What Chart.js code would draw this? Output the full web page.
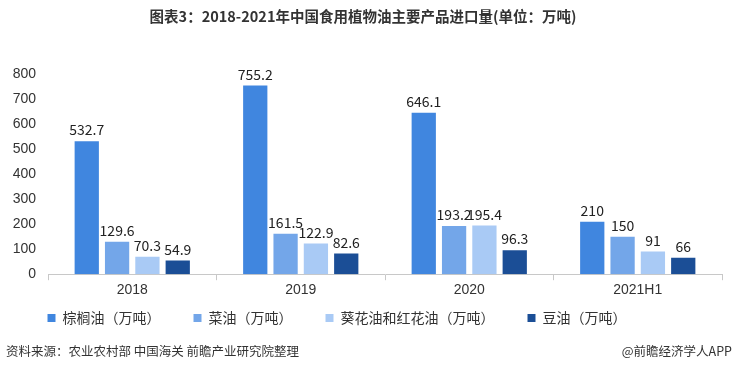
<!DOCTYPE html>
<html>
<head>
<meta charset="utf-8">
<script src="https://cdn.jsdelivr.net/npm/chart.js@4.4.0/dist/chart.umd.min.js"></script>
<style>
  body { margin: 0; background: #fff; font-family: "Noto Sans CJK SC", sans-serif; }
  #wrap { position: relative; width: 734px; height: 374px; }
  #box { position: absolute; left: 0; top: 0; width: 734px; height: 365px; }
  .foot { position: absolute; top: 341px; font-size: 12.5px; color: #333; }
</style>
</head>
<body>
<div id="wrap">
  <div id="box"><canvas id="oilChart"></canvas></div>
  <div class="foot" style="left:6px;">资料来源：农业农村部 中国海关 前瞻产业研究院整理</div>
  <div class="foot" style="right:2px;">@前瞻经济学人APP</div>
</div>
<script>
// 2018-2021H1 import volumes (10k tonnes)
const years = ['2018', '2019', '2020', '2021H1'];
const palmOil = [532.7, 755.2, 646.1, 210];
const rapeseedOil = [129.6, 161.5, 193.2, 150];
const sunflowerSafflowerOil = [70.3, 122.9, 195.4, 91];
const soybeanOil = [54.9, 82.6, 96.3, 66];
const seriesNames = ['棕榈油（万吨）', '菜油（万吨）', '葵花油和红花油（万吨）', '豆油（万吨）'];
const colors = ['#4086df', '#73a6e9', '#a9caf5', '#1b4e96'];

// draws the value above each bar
const valueLabels = {
    id: 'valueLabels',
    afterDatasetsDraw(chart) {
        const ctx = chart.ctx;
        ctx.save();
        ctx.font = '14px "Noto Sans CJK SC", sans-serif';
        ctx.fillStyle = '#222';
        ctx.textAlign = 'center';
        ctx.textBaseline = 'bottom';
        chart.data.datasets.forEach((ds, i) => {
            chart.getDatasetMeta(i).data.forEach((bar, j) => {
                ctx.fillText(String(ds.data[j]), bar.x, bar.y - 4);
            });
        });
        ctx.restore();
    }
};

// legend padding is wide for the item gaps, so pull the legend up/left a bit
const legendShift = {
    id: 'legendShift',
    afterLayout(chart) {
        const lg = chart.legend;
        lg.top -= 23; lg.bottom -= 23;
        lg.left -= 26; lg.right -= 26;
    }
};

const ctx = document.getElementById('oilChart').getContext('2d');
new Chart(ctx, {
    type: 'bar',
    data: {
        labels: years,
        datasets: [palmOil, rapeseedOil, sunflowerSafflowerOil, soybeanOil].map((d, i) => ({
            label: seriesNames[i],
            data: d,
            backgroundColor: colors[i],
            categoryPercentage: 0.72,
            barPercentage: 0.8
        }))
    },
    options: {
        responsive: true,
        maintainAspectRatio: false,
        animation: false,
        layout: { padding: { left: 4, right: 12, bottom: 7 } },
        plugins: {
            title: {
                display: true,
                text: '图表3：2018-2021年中国食用植物油主要产品进口量(单位：万吨)',
                color: '#333',
                font: { size: 14.5, weight: 'bold', family: '"Noto Sans CJK SC", sans-serif' },
                padding: { top: 8, bottom: 49 }
            },
            legend: {
                position: 'bottom',
                labels: {
                    boxWidth: 8, boxHeight: 8, padding: 33,
                    color: '#333',
                    font: { size: 14, family: '"Noto Sans CJK SC", sans-serif' }
                }
            },
            tooltip: { enabled: false }
        },
        scales: {
            x: {
                border: { color: '#c8c8c8' },
                grid: { offset: true, drawOnChartArea: false, drawTicks: true, tickLength: 6, color: '#c8c8c8' },
                ticks: { color: '#333', font: { size: 14, family: 'Arial, "Liberation Sans", sans-serif' }, padding: 2 },
            },
            y: {
                min: 0, max: 800,
                border: { display: false },
                grid: { display: false },
                ticks: { stepSize: 100, color: '#333', font: { size: 14, family: 'Arial, "Liberation Sans", sans-serif' }, padding: 4 },
                afterFit(scale) { scale.width = 44; }
            }
        }
    },
    plugins: [valueLabels, legendShift]
});
</script>
</body>
</html>
